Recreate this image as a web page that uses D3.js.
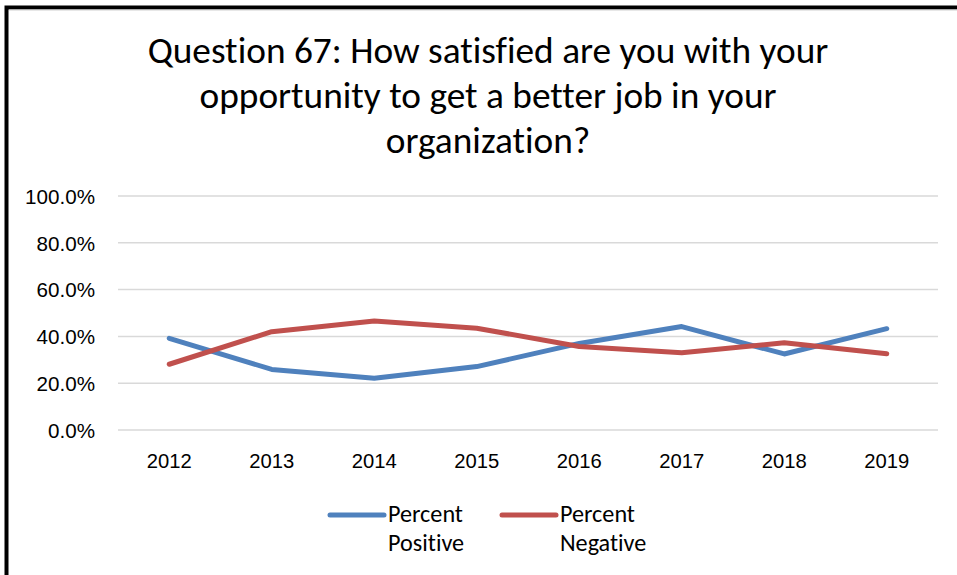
<!DOCTYPE html>
<html>
<head>
<meta charset="utf-8">
<script src="https://cdn.jsdelivr.net/npm/d3@7"></script>
<style>
  html, body { margin: 0; padding: 0; background: #fff; }
  svg { display: block; font-family: Carlito, Calibri, Lato, sans-serif; font-variant-ligatures: none; }
</style>
</head>
<body>
<svg id="chart" width="957" height="575"></svg>
<script>
// Survey results, Question 67, by year
const years = ["2012", "2013", "2014", "2015", "2016", "2017", "2018", "2019"];
const percentPositive = [39.2, 25.9, 22.1, 27.1, 37.0, 44.2, 32.5, 43.3];
const percentNegative = [28.1, 42.0, 46.6, 43.5, 35.7, 33.0, 37.3, 32.6];
const yTicks = [0, 20, 40, 60, 80, 100];
const seriesNames = ["Percent Positive", "Percent Negative"];
const seriesColors = ["#4f81bd", "#c0504d"];
const titleLines = [
  "Question 67: How satisfied are you with your",
  "opportunity to get a better job in your",
  "organization?"
];

const svg = d3.select("#chart");

// Scale a text element's font size so it spans the given width
function fitWidth(sel, target) {
  const node = sel.node();
  const base = parseFloat(sel.attr("font-size"));
  const w = node.getComputedTextLength();
  const size = base * target / w;
  sel.attr("font-size", size);
  return size;
}

// Chart frame (thick black edge on top and left)
svg.append("rect")
  .attr("x", 6.5).attr("y", 7.5)
  .attr("width", 1200).attr("height", 1200)
  .attr("fill", "#fff")
  .attr("stroke", "#000")
  .attr("stroke-width", 4);
svg.append("line")
  .attr("x1", 9).attr("x2", 957).attr("y1", 10).attr("y2", 10)
  .attr("stroke", "#d0d0d0").attr("stroke-width", 1);

// Title
const titleGroup = svg.append("g");
const t0 = titleGroup.append("text")
  .attr("x", 488).attr("y", 63)
  .attr("text-anchor", "middle")
  .attr("font-size", 32)
  .attr("fill", "#000")
  .text(titleLines[0]);
const titleSize = fitWidth(t0, 681);
titleLines.slice(1).forEach((line, i) => {
  titleGroup.append("text")
    .attr("x", 488).attr("y", 63 + 45 * (i + 1))
    .attr("text-anchor", "middle")
    .attr("font-size", titleSize)
    .attr("fill", "#000")
    .text(line);
});

// Scales
const x = d3.scaleBand().domain(years).range([118, 938]);
const y = d3.scaleLinear().domain([0, 100]).range([430, 196]);

// Gridlines
svg.append("g")
  .selectAll("line")
  .data(yTicks)
  .join("line")
  .attr("x1", 118).attr("x2", 938)
  .attr("y1", d => y(d)).attr("y2", d => y(d))
  .attr("stroke", "#d9d9d9")
  .attr("stroke-width", 1.5);

// Y axis labels
const yAxis = svg.append("g")
  .attr("transform", "translate(95,0)")
  .call(d3.axisLeft(y).tickValues(yTicks).tickSize(0).tickPadding(0)
    .tickFormat(d => d.toFixed(1) + "%"));
yAxis.select(".domain").remove();
yAxis.selectAll("text").attr("fill", "#000").attr("font-size", 20).attr("font-family", null);
const ySize = fitWidth(yAxis.selectAll("text").filter(d => d === 100), 70);
yAxis.selectAll("text").attr("font-size", ySize).attr("dy", "0.35em");

// X axis labels
const xAxis = svg.append("g")
  .attr("transform", "translate(0,430)")
  .call(d3.axisBottom(x).tickSize(0).tickPadding(0));
xAxis.select(".domain").remove();
xAxis.selectAll("text").attr("fill", "#000").attr("font-size", 20)
  .attr("font-family", null).attr("dy", null).attr("y", 38);
const xSize = fitWidth(xAxis.selectAll("text").filter(d => d === "2012"), 45);
xAxis.selectAll("text").attr("font-size", xSize);

// Series lines
const line = d3.line()
  .x((d, i) => x(years[i]) + x.bandwidth() / 2)
  .y(d => y(d));

[percentPositive, percentNegative].forEach((vals, k) => {
  svg.append("path")
    .datum(vals)
    .attr("d", line)
    .attr("fill", "none")
    .attr("stroke", seriesColors[k])
    .attr("stroke-width", 5)
    .attr("stroke-linejoin", "round")
    .attr("stroke-linecap", "round");
});

// Legend
const legendX = [330, 502];
const legend = svg.append("g");
let legendSize = null;
seriesNames.forEach((name, k) => {
  const g = legend.append("g").attr("transform", `translate(${legendX[k]},0)`);
  g.append("line")
    .attr("x1", 0).attr("x2", 54)
    .attr("y1", 515).attr("y2", 515)
    .attr("stroke", seriesColors[k])
    .attr("stroke-width", 5)
    .attr("stroke-linecap", "round");
  const words = name.split(" ");
  words.forEach((w, j) => {
    const t = g.append("text")
      .attr("x", 58).attr("y", 522 + 29 * j)
      .attr("font-size", legendSize || 20)
      .attr("fill", "#000")
      .text(w);
    if (legendSize === null) legendSize = fitWidth(t, 75);
  });
});
</script>
</body>
</html>
